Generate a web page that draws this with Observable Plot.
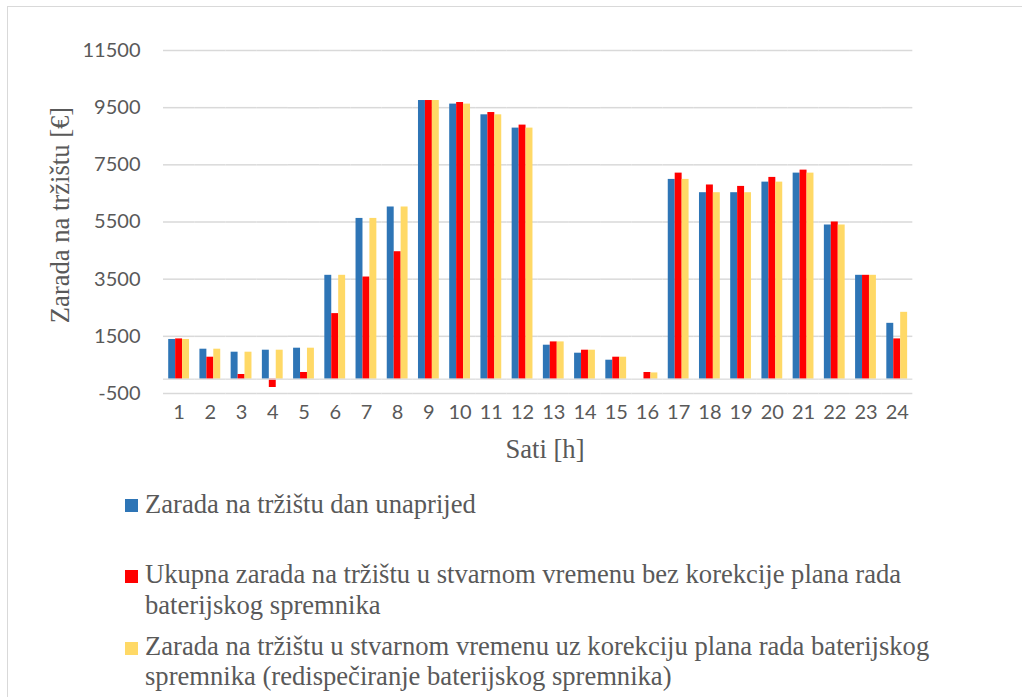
<!DOCTYPE html>
<html>
<head>
<meta charset="utf-8">
<script src="https://cdn.jsdelivr.net/npm/d3@7"></script>
<script src="https://cdn.jsdelivr.net/npm/@observablehq/plot@0.6"></script>
<style>
  html, body { margin: 0; padding: 0; background: #fff; overflow: hidden; }
  #wrap { position: relative; width: 1022px; height: 697px; overflow: hidden; }
  #frame { position: absolute; left: 7px; top: 6px; width: 1100px; height: 800px;
           border-top: 1.5px solid #d9d9d9; border-left: 1.5px solid #d9d9d9; }
  #chart { position: absolute; left: 0; top: 0; }
  .serif { font-family: 'Liberation Serif', 'Times New Roman', Times, 'DejaVu Serif', serif; font-size: 26.6px;
           color: #595959; line-height: 30px; white-space: nowrap; position: absolute; }
  #ytitle { width: 300px; height: 30px; text-align: center; left: -90px; top: 200px;
            transform: rotate(-90deg); transform-origin: 50% 50%; }
  #xtitle { width: 300px; text-align: center; left: 395px; top: 434px; }
  .sw { position: absolute; width: 13px; height: 13px; left: 125px; }
</style>
</head>
<body>
<div id="wrap">
  <div id="frame"></div>
  <div id="chart"></div>
  <div id="ytitle" class="serif"></div>
  <div id="xtitle" class="serif"></div>
  <div id="legend"></div>
</div>
<script>
// ---- data ----
const hours = [1,2,3,4,5,6,7,8,9,10,11,12,13,14,15,16,17,18,19,20,21,22,23,24];
const emptySlots = [25, 26, 27];
const seriesNames = [
  "Zarada na tržištu dan unaprijed",
  "Ukupna zarada na tržištu u stvarnom vremenu bez korekcije plana rada baterijskog spremnika",
  "Zarada na tržištu u stvarnom vremenu uz korekciju plana rada baterijskog spremnika (redispečiranje baterijskog spremnika)"
];
const seriesColors = ["#2E75B6", "#FF0000", "#FFD966"];
const dayAhead   = [1390, 1050, 945, 1015, 1085, 3635, 5625, 6025, 9750, 9625, 9250, 8785, 1190, 910, 665, 0, 6990, 6525, 6525, 6895, 7210, 5395, 3635, 1955];
const realNoCorr = [1410, 770, 165, -290, 235, 2295, 3575, 4460, 9750, 9680, 9330, 8890, 1305, 1015, 770, 235, 7210, 6795, 6745, 7060, 7315, 5500, 3635, 1410];
const realCorr   = [1390, 1050, 945, 1015, 1085, 3635, 5625, 6025, 9750, 9625, 9250, 8785, 1305, 1015, 770, 220, 6990, 6525, 6525, 6895, 7210, 5395, 3635, 2340];
const yTicks = [-500, 1500, 3500, 5500, 7500, 9500, 11500];
const yTitle = "Zarada na tržištu [€]";
const xTitle = "Sati [h]";
// legend lines (wrapped as in the reference)
const legendLines = [
  ["Zarada na tržištu dan unaprijed"],
  ["Ukupna zarada na tržištu u stvarnom vremenu bez korekcije plana rada", "baterijskog spremnika"],
  ["Zarada na tržištu u stvarnom vremenu uz korekciju plana rada baterijskog", "spremnika (redispečiranje baterijskog spremnika)"]
];

// ---- table ----
const allSeries = [dayAhead, realNoCorr, realCorr];
const rows = [];
hours.forEach((h, i) => {
  allSeries.forEach((arr, s) => rows.push({hour: h, series: seriesNames[s], value: arr[i]}));
});

const chart = Plot.plot({
  width: 1022,
  height: 470,
  marginLeft: 163,
  marginRight: 16,
  marginTop: 50,
  marginBottom: 77,
  style: {fontFamily: "Lato, 'Open Sans', sans-serif", fontSize: "20px", color: "#595959", background: "transparent"},
  fx: {domain: hours.concat(emptySlots), padding: 0, round: false, label: null,
       tickSize: 0, tickPadding: 11, tickFormat: d => hours.includes(d) ? String(d) : ""},
  x: {domain: seriesNames, paddingInner: 0, paddingOuter: 0.75, round: false, axis: null},
  y: {domain: [-500, 11500], axis: null},
  color: {domain: seriesNames, range: seriesColors},
  marks: [
    Plot.gridY(yTicks, {stroke: "#d9d9d9", strokeOpacity: 1, strokeWidth: 1.5}),
    Plot.barY(rows, {fx: "hour", x: "series", y: "value", fill: "series", insetLeft: 0, insetRight: 0}),
    Plot.ruleY([0], {stroke: "#d9d9d9", strokeOpacity: 0.85, strokeWidth: 1.5}),
    Plot.axisY(yTicks, {tickSize: 0, tickPadding: 23, label: null, fill: "#595959", tickFormat: d => String(d)})
  ]
});
document.getElementById("chart").appendChild(chart);

document.getElementById("ytitle").textContent = yTitle;
document.getElementById("xtitle").textContent = xTitle;

// legend
const legend = document.getElementById("legend");
const lineTops = [[489], [559, 590], [631, 661]];
const swatchTops = [499, 570, 642];
legendLines.forEach((lines, s) => {
  const sw = document.createElement("div");
  sw.className = "sw";
  sw.style.top = swatchTops[s] + "px";
  sw.style.background = seriesColors[s];
  legend.appendChild(sw);
  lines.forEach((t, j) => {
    const d = document.createElement("div");
    d.className = "serif";
    d.style.left = "145px";
    d.style.top = lineTops[s][j] + "px";
    d.textContent = t;
    legend.appendChild(d);
  });
});
</script>
</body>
</html>
